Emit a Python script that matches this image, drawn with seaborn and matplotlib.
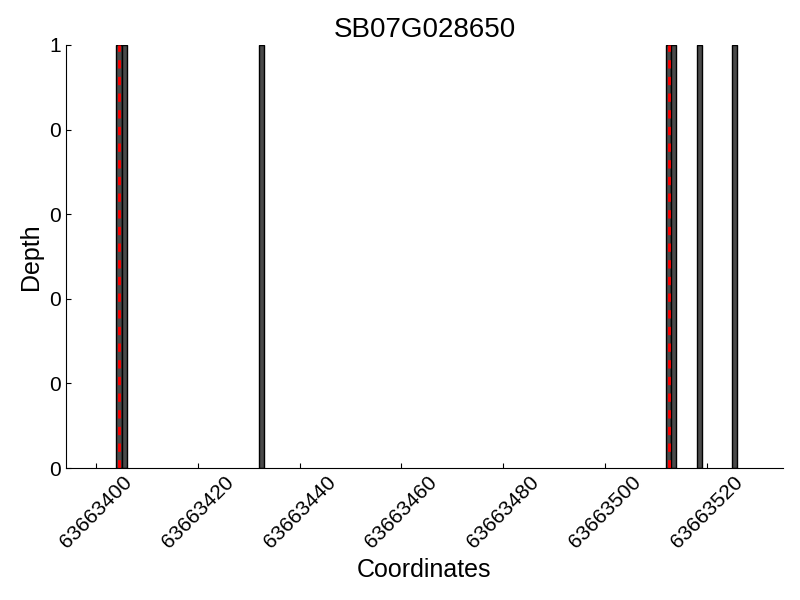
import matplotlib
matplotlib.use("Agg")
import matplotlib.pyplot as plt
import matplotlib.ticker as mticker
import pandas as pd
import seaborn as sns

sns.set_style("ticks")
plt.rcParams["font.family"] = ["Liberation Sans", "DejaVu Sans"]
plt.rcParams["text.color"] = "black"
plt.rcParams["axes.labelcolor"] = "black"
plt.rcParams["xtick.color"] = "black"
plt.rcParams["ytick.color"] = "black"
plt.rcParams["axes.edgecolor"] = "black"

gene = "SB07G028650"
positions = [63663404, 63663405, 63663432, 63663512, 63663513, 63663518, 63663525]
depths = [1, 1, 1, 1, 1, 1, 1]
marks = [63663404.5, 63663512.5]

df = pd.DataFrame({"pos": positions, "depth": depths})

fig = plt.figure(figsize=(8, 6), dpi=100)
ax = fig.add_axes([0.082, 0.22, 0.897, 0.705])

ax.bar(df["pos"], df["depth"], width=1, align="edge",
       color="#4a4a4a", edgecolor="black", linewidth=1)
for m in marks:
    ax.axvline(m, color="red", linestyle=(0, (3, 3)), linewidth=2)

ax.set_xlim(63663394, 63663535)
ax.set_ylim(0, 1)
ax.yaxis.set_major_locator(mticker.MultipleLocator(0.2))
ax.yaxis.set_major_formatter(mticker.FormatStrFormatter("%d"))
ax.xaxis.set_major_locator(mticker.MultipleLocator(20))
ax.xaxis.set_major_formatter(mticker.FormatStrFormatter("%d"))
ax.tick_params(direction="in", labelsize=15, length=3.5, width=0.8)
plt.setp(ax.get_xticklabels(), rotation=45, ha="center")
sns.despine(ax=ax)

ax.set_title(gene, fontsize=20)
ax.set_xlabel("Coordinates", fontsize=18)
ax.set_ylabel("Depth", fontsize=18)

fig.savefig("out.png", dpi=100)
